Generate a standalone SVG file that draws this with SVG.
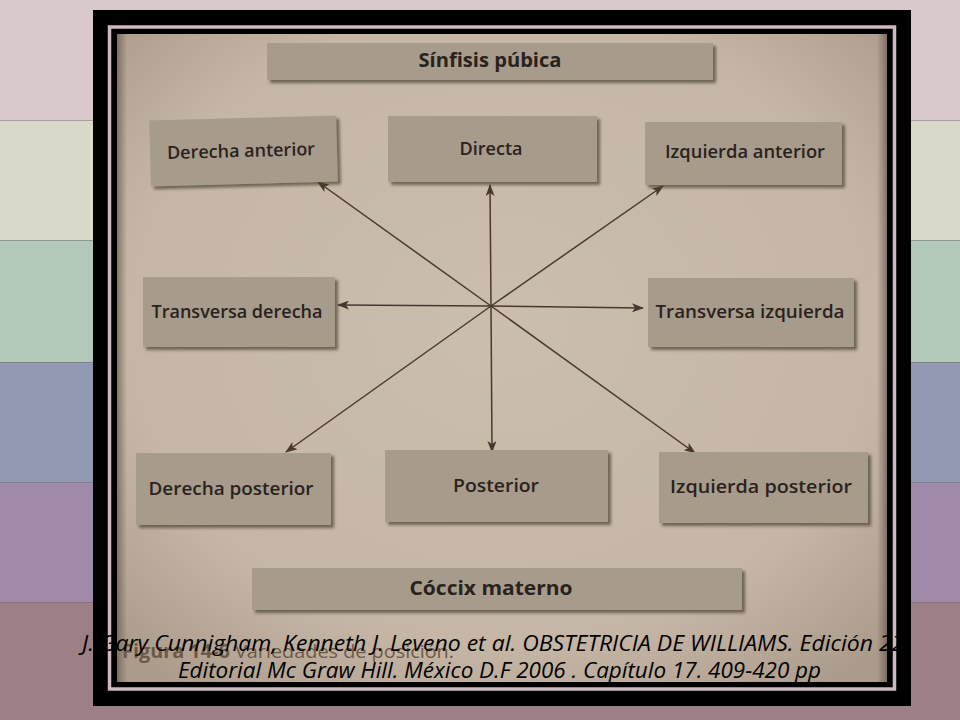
<svg xmlns="http://www.w3.org/2000/svg" width="960" height="720" viewBox="0 0 960 720">
<defs>
<style>
.box{fill:#a79b8b;filter:url(#sh)}
.lbl{font-family:"Open Sans","Liberation Sans",sans-serif;font-weight:600;font-size:18px;fill:#2a221c;text-anchor:middle}
.hdr{font-family:"Open Sans","Liberation Sans",sans-serif;font-weight:700;font-size:19px;fill:#2a221c;text-anchor:middle}
.con{stroke:#4a3830;stroke-width:1.5;fill:none;marker-end:url(#ah)}
.cap{font-family:"Open Sans","Liberation Sans",sans-serif;font-style:italic;font-weight:500;font-size:21px;fill:#000}
.fig{font-family:"Open Sans","Liberation Sans",sans-serif;font-size:19px;fill:#6e5a48}
.stripeline{stroke:#6e6a70;stroke-width:1;opacity:0.5}
</style>
<filter id="sh" x="-10%" y="-20%" width="125%" height="150%">
<feDropShadow dx="3" dy="3" stdDeviation="1.6" flood-color="#4a3f35" flood-opacity="0.7"/>
</filter>
<marker id="ah" markerUnits="userSpaceOnUse" markerWidth="12" markerHeight="9" refX="11" refY="4.5" orient="auto">
<path d="M0,0 L12,4.5 L0,9 L3,4.5 z" fill="#4a3830"/>
</marker>
<radialGradient id="paper" cx="0.5" cy="0.45" r="0.7">
<stop offset="0" stop-color="#cbbead"/>
<stop offset="0.7" stop-color="#c5b6a5"/>
<stop offset="1" stop-color="#ab9b8b"/>
</radialGradient>
<linearGradient id="edgeL" x1="0" x2="1" y1="0" y2="0">
<stop offset="0" stop-color="#6a5a4c" stop-opacity="0.7"/>
<stop offset="1" stop-color="#6a5a4c" stop-opacity="0"/>
</linearGradient>
</defs>

<g id="background">
<rect x="0" y="0" width="960" height="120" fill="#d9c9cd"/>
<rect x="0" y="120" width="960" height="120" fill="#d8d9c9"/>
<rect x="0" y="240" width="960" height="122" fill="#b2c9ba"/>
<rect x="0" y="362" width="960" height="120" fill="#9299b3"/>
<rect x="0" y="482" width="960" height="120" fill="#a18aa9"/>
<rect x="0" y="602" width="960" height="118" fill="#9c8085"/>
<line class="stripeline" x1="0" y1="120.5" x2="960" y2="120.5"/>
<line class="stripeline" x1="0" y1="240.5" x2="960" y2="240.5"/>
<line class="stripeline" x1="0" y1="362.5" x2="960" y2="362.5"/>
<line class="stripeline" x1="0" y1="482.5" x2="960" y2="482.5"/>
<line class="stripeline" x1="0" y1="602.5" x2="960" y2="602.5"/>
</g>

<g id="frame">
<rect x="93" y="10" width="818" height="696" fill="#000"/>
<rect x="109.5" y="27" width="785" height="662" fill="none" stroke="#cdb9c0" stroke-width="3.5"/>
</g>

<g id="photo">
<rect x="117" y="34" width="770" height="648" fill="url(#paper)"/>
<rect x="117" y="34" width="10" height="648" fill="url(#edgeL)"/>
<rect x="877" y="34" width="10" height="648" fill="url(#edgeL)" transform="rotate(180 882 358)"/>
</g>

<g id="connectors">
<line class="con" x1="491" y1="306" x2="318" y2="182"/>
<line class="con" x1="491" y1="306" x2="490" y2="185"/>
<line class="con" x1="491" y1="306" x2="663" y2="186"/>
<line class="con" x1="491" y1="306" x2="338" y2="305"/>
<line class="con" x1="491" y1="306" x2="643" y2="308"/>
<line class="con" x1="491" y1="306" x2="286" y2="452"/>
<line class="con" x1="491" y1="306" x2="492" y2="452"/>
<line class="con" x1="491" y1="306" x2="695" y2="453"/>
</g>

<g id="node-sinfisis">
<rect class="box" x="267" y="43" width="446" height="37"/>
<text class="hdr" x="490" y="67" textLength="143" lengthAdjust="spacingAndGlyphs">Sínfisis púbica</text>
</g>
<g id="node-derecha-anterior" transform="rotate(-1.5 243 151)">
<rect class="box" x="150" y="118" width="187" height="66"/>
<text class="lbl" x="241" y="157" textLength="148" lengthAdjust="spacingAndGlyphs">Derecha anterior</text>
</g>
<g id="node-directa">
<rect class="box" x="388" y="116" width="209" height="66"/>
<text class="lbl" x="491" y="155" textLength="63" lengthAdjust="spacingAndGlyphs">Directa</text>
</g>
<g id="node-izquierda-anterior">
<rect class="box" x="645" y="122" width="197" height="63"/>
<text class="lbl" x="745" y="158" textLength="160" lengthAdjust="spacingAndGlyphs">Izquierda anterior</text>
</g>
<g id="node-transversa-derecha">
<rect class="box" x="143" y="277" width="192" height="70"/>
<text class="lbl" x="237" y="318" textLength="171" lengthAdjust="spacingAndGlyphs">Transversa derecha</text>
</g>
<g id="node-transversa-izquierda">
<rect class="box" x="648" y="278" width="206" height="69"/>
<text class="lbl" x="750" y="318" textLength="189" lengthAdjust="spacingAndGlyphs">Transversa izquierda</text>
</g>
<g id="node-derecha-posterior">
<rect class="box" x="136" y="453" width="195" height="72"/>
<text class="lbl" x="231" y="495" textLength="165" lengthAdjust="spacingAndGlyphs">Derecha posterior</text>
</g>
<g id="node-posterior">
<rect class="box" x="385" y="450" width="223" height="72"/>
<text class="lbl" x="496" y="492" textLength="86" lengthAdjust="spacingAndGlyphs">Posterior</text>
</g>
<g id="node-izquierda-posterior">
<rect class="box" x="659" y="452" width="209" height="71"/>
<text class="lbl" x="761" y="493" textLength="182" lengthAdjust="spacingAndGlyphs">Izquierda posterior</text>
</g>
<g id="node-coccix">
<rect class="box" x="252" y="568" width="490" height="42"/>
<text class="hdr" x="491" y="595" font-size="20" textLength="163" lengthAdjust="spacingAndGlyphs">Cóccix materno</text>
</g>

<g id="caption">
<text class="fig" x="122" y="658" textLength="332" lengthAdjust="spacingAndGlyphs"><tspan font-weight="700">Figura 14-6</tspan>   Variedades de posición.</text>
<text class="cap" x="82" y="651" textLength="828" lengthAdjust="spacingAndGlyphs">J. Gary Cunnigham, Kenneth J. Leveno et al. OBSTETRICIA DE WILLIAMS. Edición 22.</text>
<text class="cap" x="178" y="678" textLength="643" lengthAdjust="spacingAndGlyphs">Editorial Mc Graw Hill. México D.F 2006 . Capítulo 17. 409-420 pp</text>
</g>
</svg>
